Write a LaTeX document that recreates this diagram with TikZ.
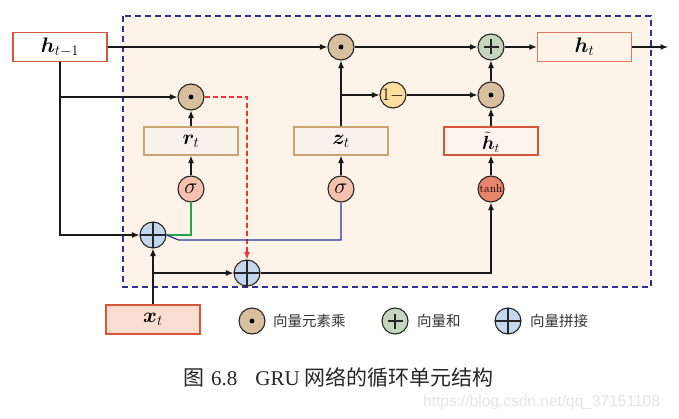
\RequirePackage{fix-cm}
\documentclass[tikz,border=0pt]{standalone}
\usepackage{amsmath}
\usepackage{bm}
\usepackage{fontspec}
\newfontfamily\cjk{Noto Sans CJK SC}
\newfontfamily\tms{Liberation Serif}
\newfontfamily\wmfont{Liberation Sans}
\usetikzlibrary{arrows.meta,calc}
\definecolor{bgfill}{HTML}{FDF3E8}
\definecolor{dashblue}{HTML}{2E3192}
\definecolor{boxred}{HTML}{D5573B}
\definecolor{boxtan}{HTML}{C9A46E}
\definecolor{gatefill}{HTML}{F7F2EA}
\definecolor{xfill}{HTML}{F9DDD1}
\definecolor{htfill}{HTML}{FDF5EC}
\definecolor{dotfill}{HTML}{D8BF9F}
\definecolor{plusfill}{HTML}{C4D7BE}
\definecolor{catfill}{HTML}{C3D8EE}
\definecolor{sigfill}{HTML}{F4C2AE}
\definecolor{tanhfill}{HTML}{E8846B}
\definecolor{onefill}{HTML}{FDDE9F}
\definecolor{lgreen}{HTML}{1DA64A}
\definecolor{lblue}{HTML}{2B2F9A}
\definecolor{lred}{HTML}{F0333A}
\definecolor{wmgray}{HTML}{E4E4E4}
\tikzset{
  arr/.style={draw=black!90, line width=1.2pt, -{Latex[length=7.5pt,width=6pt]}},
  circ/.style={circle, draw=black!85, line width=1.1pt, minimum size=26pt, inner sep=0pt},
  dotop/.style={circ, fill=dotfill, path picture={\fill[black] (path picture bounding box.center) circle (2.4pt);}},
  plusop/.style={circ, fill=plusfill, path picture={
      \draw[black!85, line width=1.1pt] ($(path picture bounding box.center)+(-7.5pt,0)$) -- ($(path picture bounding box.center)+(7.5pt,0)$);
      \draw[black!85, line width=1.1pt] ($(path picture bounding box.center)+(0,-7.5pt)$) -- ($(path picture bounding box.center)+(0,7.5pt)$);}},
  catop/.style={circ, fill=catfill, path picture={
      \draw[black!85, line width=1.1pt] (path picture bounding box.west) -- (path picture bounding box.east);
      \draw[black!85, line width=1.1pt] (path picture bounding box.north) -- (path picture bounding box.south);}},
  sigop/.style={circ, fill=sigfill, font=\fontsize{22}{23}\selectfont},
  tanhop/.style={circ, fill=tanhfill, font=\fontsize{11.5}{12}\selectfont},
  oneop/.style={circ, fill=onefill, font=\fontsize{18}{19}\selectfont},
  vecbox/.style={draw=boxred, line width=1.2pt, minimum width=94pt, minimum height=29pt, inner sep=0pt, font=\fontsize{21}{23}\selectfont},
  gatebox/.style={draw=boxtan, fill=gatefill, line width=1.2pt, minimum width=94pt, minimum height=28pt, inner sep=0pt, font=\fontsize{21}{23}\selectfont},
  legend/.style={anchor=west, inner sep=0pt, font=\cjk\fontsize{14.5}{16}\selectfont, text=black!80},
}
\begin{document}
\begin{tikzpicture}[x=1pt,y=-1pt]
\useasboundingbox (0,0) rectangle (679,419);
% cell background
\draw[fill=bgfill, draw=dashblue, line width=1.8pt, dash pattern=on 6pt off 4pt] (123,16) rectangle (651,287);

% nodes
\node[vecbox, fill=white] (hprev) at (60,47) {$\bm{h}_{t-1}$};
\node[vecbox, fill=bgfill, draw=boxred!80] (ht) at (584.5,47) {$\bm{h}_t$};
\node[vecbox, fill=xfill] (xt) at (153,319.5) {$\bm{x}_t$};
\node[gatebox] (rt) at (191,141) {$\bm{r}_t$};
\node[gatebox] (zt) at (341,141) {$\bm{z}_t$};
\node[draw=boxred, fill=htfill, line width=1.2pt, minimum width=94pt, minimum height=28pt, inner sep=0pt] (htil) at (491,141) {};
\node[inner sep=0pt, font=\fontsize{19}{21}\selectfont] (htiltext) at (491,142) {$\tilde{\bm{h}}_t$};

\node[dotop] (m1) at (341,47) {};
\node[plusop] (plus) at (491,47) {};
\node[dotop] (mr) at (191,97) {};
\node[oneop] (one) at (393,95) {$1-$};
\node[dotop] (m2) at (491,95) {};
\node[sigop] (sr) at (191,189) {$\sigma$};
\node[sigop] (sz) at (341,189) {$\sigma$};
\node[tanhop] (tanh) at (491,189) {tanh};
\node[catop] (c1) at (153,235) {};
\node[catop] (c2) at (247,273) {};

\coordinate (out) at (668,47);
\coordinate (zb) at (341,95);

% connectors
\draw[arr] (hprev) -- (m1);
\draw[arr] (hprev.south) |- (c1.west);
\draw[arr] (hprev.south |- mr) -- (mr.west);
\draw[arr, draw=lred, dash pattern=on 5pt off 3pt] (mr.east) -| (c2.north);
\draw[arr] (rt.north) -- (mr.south);
\draw[arr] (sr.north) -- (rt.south);
\draw[draw=lgreen, line width=1.2pt] (sr.south) |- (c1.east);
\draw[draw=lblue, line width=1.2pt] (c1.east) -- ($(c1.east)+(12,5)$) -| (sz.south);
\draw[arr] (sz.north) -- (zt.south);
\draw[arr] (zt.north) -- (m1.south);
\draw[arr] (zb) -- (one.west);
\draw[arr] (one) -- (m2);
\draw[arr] (m2) -- (plus);
\draw[arr] (m1) -- (plus);
\draw[arr] (plus) -- (ht);
\draw[arr] (ht) -- (out);
\draw[arr] (htil.north) -- (m2.south);
\draw[arr] (tanh.north) -- (htil.south);
\draw[arr] (c2.east) -| (tanh.south);
\draw[arr] (xt.north) -- (c1.south);
\draw[arr] (xt.north |- c2) -- (c2.west);

% legend
\node[dotop] (l1) at (252,321) {};
\node[legend] (l1t) at (273,321) {向量元素乘};
\node[plusop] (l2) at (395,321) {};
\node[legend] (l2t) at (417,321) {向量和};
\node[catop] (l3) at (508,321) {};
\node[legend] (l3t) at (530,321) {向量拼接};

% caption
\node[anchor=west, inner sep=0pt, text=black!85] (cap) at (183,377) {\fontsize{21}{23}\selectfont{\cjk 图}\hspace{7pt}{\tms 6.8}\hspace{18pt}{\tms GRU}\hspace{5pt}{\cjk 网络的循环单元结构}};
\node[anchor=west, inner sep=0pt, text=wmgray] (wm) at (423,402) {\wmfont\fontsize{15.5}{17}\selectfont https://blog.csdn.net/qq\_37151108};
\end{tikzpicture}
\end{document}
